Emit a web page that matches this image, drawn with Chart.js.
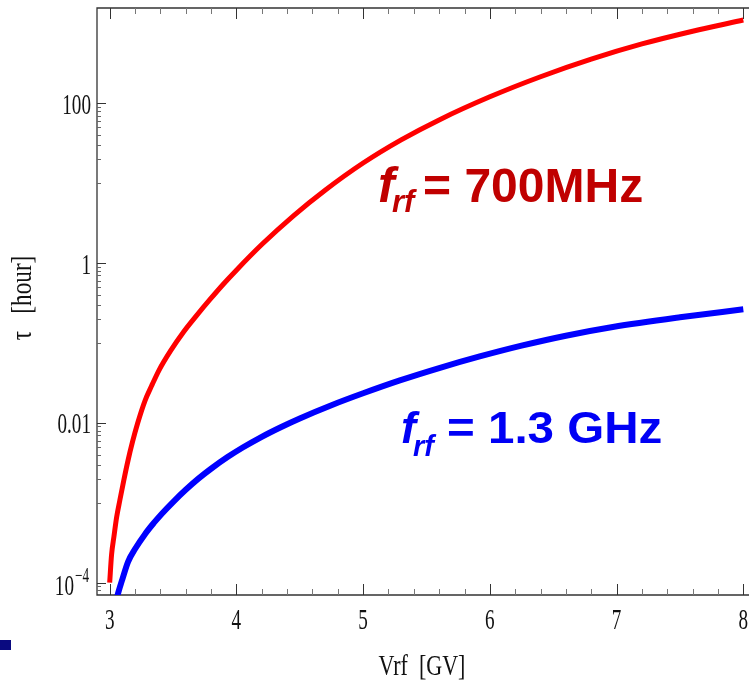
<!DOCTYPE html>
<html>
<head>
<meta charset="utf-8">
<script src="https://cdn.jsdelivr.net/npm/chart.js@4/dist/chart.umd.min.js"></script>
<style>
  html, body { margin: 0; padding: 0; background: #fff; }
  canvas { display: block; }
</style>
</head>
<body>
<canvas id="tauChart" width="749" height="687"></canvas>
<script>
// quantum lifetime vs rf voltage
const vrf700  = [3.0, 3.015, 3.034, 3.055, 3.08, 3.11, 3.145, 3.18, 3.22, 3.28, 3.33, 3.39, 3.48, 3.58, 3.69, 3.79, 3.9, 4.0, 4.2, 4.45, 4.7, 5.0, 5.3, 5.6, 6.0, 6.4, 6.8, 7.2, 7.6, 8.0];
const tau700  = [1.0e-4, 2.24e-4, 3.8e-4, 6.6e-4, 1.07e-3, 1.86e-3, 3.39e-3, 5.75e-3, 9.8e-3, 0.0191, 0.0288, 0.0457, 0.0794, 0.135, 0.224, 0.347, 0.55, 0.813, 1.70, 3.89, 8.13, 17.8, 34.7, 61.7, 120, 214, 355, 550, 794, 1096];

const vrf1300 = [3.04, 3.06, 3.1, 3.145, 3.2, 3.28, 3.35, 3.41, 3.5, 3.6, 3.7, 3.8, 3.93, 4.05, 4.2, 4.35, 4.5, 4.75, 5.0, 5.29, 5.6, 5.92, 6.25, 6.6, 6.97, 7.5, 8.0];
const tau1300 = [5.0e-5, 6.76e-5, 1.10e-4, 1.82e-4, 2.63e-4, 4.07e-4, 5.62e-4, 7.24e-4, 1.02e-3, 1.45e-3, 2.0e-3, 2.66e-3, 3.72e-3, 4.9e-3, 6.68e-3, 8.81e-3, 0.01135, 0.0166, 0.0234, 0.0339, 0.0484, 0.0676, 0.0923, 0.123, 0.158, 0.209, 0.263];

const xTickValues = [3, 4, 5, 6, 7, 8];
const xTickLabels = ['3', '4', '5', '6', '7', '8'];
const yTickValues = [100, 1, 0.01, 1e-4];
const yTickLabels = ['100', '1', '0.01', '10|\u22124'];   // "|" splits base and exponent

const serif = '"Liberation Serif", "DejaVu Serif", serif';
const sans = '"Liberation Sans", Arial, sans-serif';

function toPoints(xs, ys) {
    return xs.map((v, i) => ({ x: v, y: ys[i] }));
}

function squeeze(ctx, text, x, y, sx, align) {
    ctx.save();
    ctx.translate(x, y);
    ctx.scale(sx, 1);
    ctx.textAlign = align;
    ctx.fillText(text, 0, 0);
    ctx.restore();
}

// axes, inward ticks, labels (Mathematica style frame)
const framePlugin = {
    id: 'frame',
    beforeDatasetsDraw(chart) {
        const { ctx, chartArea: a, scales: { x, y } } = chart;
        ctx.save();
        ctx.strokeStyle = '#333';
        ctx.lineWidth = 1.3;
        ctx.beginPath();
        ctx.moveTo(a.right, a.top); ctx.lineTo(a.left, a.top);
        ctx.lineTo(a.left, a.bottom); ctx.lineTo(a.right, a.bottom);
        ctx.stroke();

        // x ticks, top and bottom
        ctx.lineWidth = 1;
        for (let i = 0; i <= 25; i++) {
            const v = 3 + i * 0.2;
            const px = Math.round(x.getPixelForValue(v)) + 0.5;
            const len = (i % 5 === 0) ? 11 : 6;
            ctx.strokeStyle = (i % 5 === 0) ? '#333' : '#777';
            ctx.beginPath();
            ctx.moveTo(px, a.bottom); ctx.lineTo(px, a.bottom - len);
            ctx.moveTo(px, a.top); ctx.lineTo(px, a.top + len);
            ctx.stroke();
        }
        // y ticks: major every two decades, minors at 0.1..0.9 of each major
        yTickValues.forEach(m => {
            for (let k = 10; k >= 1; k--) {
                const v = m * k / 10;
                if (v < y.min || v > y.max) continue;
                const py = Math.round(y.getPixelForValue(v)) + 0.5;
                const len = (k === 10) ? 9 : 4;
                ctx.strokeStyle = (k === 10) ? '#333' : '#666';
                ctx.beginPath();
                ctx.moveTo(a.left, py); ctx.lineTo(a.left + len, py);
                ctx.stroke();
            }
        });

        // tick labels
        ctx.fillStyle = '#111';
        ctx.textBaseline = 'middle';
        ctx.font = '29px ' + serif;
        xTickValues.forEach((v, i) => {
            squeeze(ctx, xTickLabels[i], x.getPixelForValue(v), a.bottom + 26, 0.66, 'center');
        });
        yTickValues.forEach((v, i) => {
            const py = y.getPixelForValue(v) + 3;
            const lbl = yTickLabels[i];
            if (lbl.includes('|')) {
                const [base, exp] = lbl.split('|');
                ctx.font = '20px ' + serif;
                const ew = ctx.measureText(exp).width * 0.66;
                squeeze(ctx, exp, a.left - 8, py - 9, 0.66, 'right');
                ctx.font = '29px ' + serif;
                squeeze(ctx, base, a.left - 9 - ew, py + 2, 0.66, 'right');
            } else {
                ctx.font = '29px ' + serif;
                squeeze(ctx, lbl, a.left - 6, py, 0.66, 'right');
            }
        });

        // axis titles
        ctx.font = '29px ' + serif;
        squeeze(ctx, 'Vrf  [GV]', 422, 667, 0.76, 'center');
        ctx.save();
        ctx.translate(23, 298);
        ctx.rotate(-Math.PI / 2);
        squeeze(ctx, '\u03C4   [hour]', 0, 0, 0.8, 'center');
        ctx.restore();

        // stray marker at the lower left
        ctx.fillStyle = '#0a0a80';
        ctx.fillRect(0, 640, 11, 10);
        ctx.restore();
    },
    afterDatasetsDraw(chart) {
        const { ctx } = chart;
        ctx.save();
        ctx.textBaseline = 'alphabetic';
        ctx.textAlign = 'left';

        // f_rf = 700MHz
        ctx.fillStyle = '#c00000';
        ctx.font = 'italic bold 50px ' + sans;
        ctx.fillText('f', 378, 202);
        ctx.font = 'italic bold 31px ' + sans;
        ctx.fillText('rf', 392, 212);
        ctx.font = 'bold 49px ' + sans;
        squeeze(ctx, '= 700MHz', 423, 202, 0.98, 'left');

        // f_rf = 1.3 GHz
        ctx.fillStyle = '#0000f5';
        ctx.font = 'italic bold 45px ' + sans;
        ctx.fillText('f', 401, 443);
        ctx.font = 'italic bold 29px ' + sans;
        ctx.fillText('rf', 413, 456);
        ctx.font = 'bold 44px ' + sans;
        squeeze(ctx, '= 1.3 GHz', 447, 443, 1.08, 'left');
        ctx.restore();
    }
};

new Chart('tauChart', {
    type: 'line',
    data: {
        datasets: [{
            label: 'f_rf = 700MHz',
            data: toPoints(vrf700, tau700),
            borderColor: '#ff0000',
            borderWidth: 5,
            pointRadius: 0,
            cubicInterpolationMode: 'monotone',
            clip: 0
        }, {
            label: 'f_rf = 1.3 GHz',
            data: toPoints(vrf1300, tau1300),
            borderColor: '#0000ff',
            borderWidth: 6,
            pointRadius: 0,
            cubicInterpolationMode: 'monotone',
            clip: 0
        }]
    },
    options: {
        responsive: false,
        animation: false,
        layout: { padding: { left: 97, top: 8, right: 0, bottom: 92 } },
        plugins: { legend: { display: false }, tooltip: { enabled: false } },
        scales: {
            x: { type: 'linear', min: 2.9, max: 8.045, display: false },
            y: { type: 'logarithmic', min: 7e-5, max: 1550, display: false }
        }
    },
    plugins: [framePlugin]
});
</script>
</body>
</html>
